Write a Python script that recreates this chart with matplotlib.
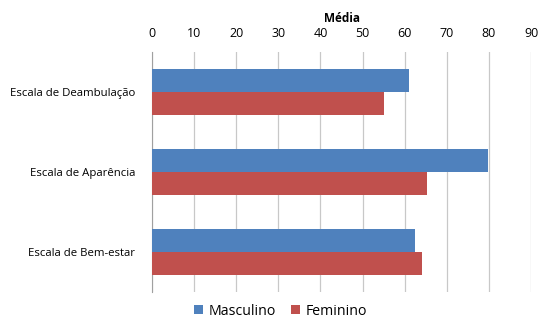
import matplotlib.pyplot as plt
import numpy as np

plt.rcParams['font.family'] = ['Open Sans', 'DejaVu Sans']

categorias = ['Escala de Deambulação', 'Escala de Aparência', 'Escala de Bem-estar']
masculino = [61.0, 79.7, 62.4]
feminino = [55.1, 65.2, 64.0]

fig = plt.figure(figsize=(5.43, 3.22), dpi=100)
ax = fig.add_axes([0.28, 0.093, 0.698, 0.745])

y = np.arange(len(categorias))
h = 0.2875
ax.barh(y - h/2, masculino, height=h, color='#4F81BD', label='Masculino', zorder=3)
ax.barh(y + h/2, feminino, height=h, color='#C0504D', label='Feminino', zorder=3)

ax.set_xlim(0, 90)
ax.set_ylim(len(categorias) - 0.5, -0.5)
ax.set_xticks(np.arange(0, 91, 10))
ax.xaxis.tick_top()
ax.xaxis.set_label_position('top')
ax.set_xlabel('Média', fontsize=8.5, fontweight='bold', labelpad=3.5)
ax.tick_params(axis='x', length=0, labelsize=9, pad=8.5)
ax.set_yticks(y)
ax.set_yticklabels(categorias, fontsize=8.2)
ax.tick_params(axis='y', length=0, pad=12)
ax.grid(axis='x', color='#C8C8C8', linewidth=0.9, zorder=0)
for s in ['top', 'right', 'bottom']:
    ax.spines[s].set_visible(False)
ax.spines['left'].set_color('#A0A0A0')

fig.legend(loc='lower center', bbox_to_anchor=(0.517, -0.03), ncol=2, frameon=False,
           fontsize=10.2, handlelength=0.6, handleheight=0.6, columnspacing=1.1, handletextpad=0.4)

fig.savefig('out.png', dpi=100)
